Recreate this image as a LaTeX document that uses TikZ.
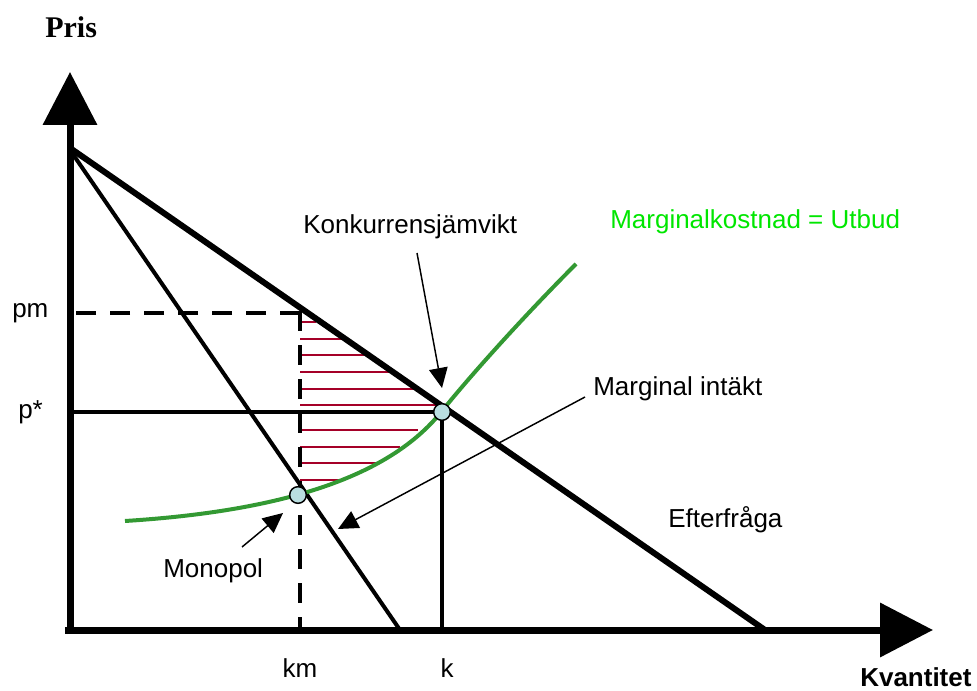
\documentclass[tikz,border=0pt]{standalone}
\usepackage{fontspec}
\setmainfont{Liberation Sans}
\newfontfamily\serifbold{Liberation Serif}
\usetikzlibrary{arrows.meta}
\definecolor{hatchred}{RGB}{165,0,40}
\definecolor{mcgreen}{RGB}{51,153,51}
\definecolor{labgreen}{RGB}{0,230,0}
\definecolor{ptfill}{RGB}{185,222,224}
\tikzset{
  lbl/.style={font=\fontsize{19.5}{23}\selectfont, inner sep=0pt, anchor=base west},
  axis/.style={line width=5.25pt, -{Triangle[length=39.75pt,width=39.75pt]}},
  demand/.style={line width=4.5pt},
  mrline/.style={line width=3pt},
  guide/.style={line width=3pt},
  dashguide/.style={line width=3.2pt, dash pattern=on 15pt off 10.5pt},
  hatchline/.style={line width=1.6pt, hatchred},
  supply/.style={line width=3pt, mcgreen},
  ptmark/.style={circle, draw=black, line width=1.1pt, fill=ptfill, minimum size=12.5pt, inner sep=0pt},
  ann/.style={line width=1.1pt, -{Triangle[length=15pt,width=14pt]}}
}
\begin{document}
\begin{tikzpicture}[x=0.75pt,y=-0.75pt]
\useasboundingbox (0,0) rectangle (977,691);
% coordinates
\coordinate (O) at (70,630);
\coordinate (ybot) at (70,634);
\coordinate (ytop) at (70,72);
\coordinate (xleft) at (65,630);
\coordinate (xright) at (933,630);
\coordinate (dTop) at (70,148);
\coordinate (dBot) at (765,630);
\coordinate (mTop) at (70,150);
\coordinate (mBot) at (400,630);
\coordinate (sStart) at (125,521);
\coordinate (sEq) at (442,411);
\coordinate (sEnd) at (576,264);
% hatch
\foreach \yy/\xe in {321.7/316,338.7/342,355/367,371.7/392,388.7/417,405/441,430/418,446.7/400,463.3/376,480/342}
  \draw[hatchline] (300,\yy) -- (\xe,\yy);
% guides
\draw[dashguide] (300,313) -- (75,313);
\draw[dashguide] (300,311) -- (300,630);
\draw[guide] (70,412) -- (442,412);
\draw[line width=2.6pt] (442,412) -- (442,630);
% demand and MR
\draw[demand] (dTop) -- (dBot);
\draw[mrline] (mTop) -- (mBot);
% supply curve
\draw[supply] (sStart) .. controls (300,510) and (395,470) .. (sEq)
  .. controls (475,370) and (530,310) .. (sEnd);
% axes
\draw[axis] (ybot) -- (ytop);
\draw[axis] (xleft) -- (xright);
% points
\node[ptmark] (monopt) at (298,495) {};
\node[ptmark] (eqpt) at (442,412) {};
% labels
\node[lbl] (konk) at (303,234) {Konkurrensjämvikt};
\node[lbl, text=labgreen] (mc) at (610,229) {Marginalkostnad = Utbud};
\node[lbl] (mi) at (593,395) {Marginal intäkt};
\node[lbl] (mono) at (163,577) {Monopol};
\node[lbl] (eft) at (668,527) {Efterfråga};
\node[lbl] (pm) at (12,317) {pm};
\node[lbl] (ps) at (18,418) {p*};
\node[lbl, anchor=base] (km) at (300,677) {km};
\node[lbl, anchor=base] (k) at (447,677) {k};
\node[lbl, font=\fontsize{19.5}{23}\selectfont\bfseries] (kv) at (860,686) {Kvantitet};
\node[inner sep=0pt, anchor=base west, font=\serifbold\bfseries\fontsize{22.5}{26}\selectfont] (pris) at (45,38) {Pris};
% annotation arrows
\coordinate (konkS) at (417,253);
\coordinate (konkT) at (442,388);
\coordinate (monoS) at (242,547);
\coordinate (monoT) at (283,513);
\coordinate (miS) at (585,397);
\coordinate (miT) at (338,529);
\draw[ann] (konkS) -- (konkT);
\draw[ann] (monoS) -- (monoT);
\draw[ann] (miS) -- (miT);
\end{tikzpicture}
\end{document}
